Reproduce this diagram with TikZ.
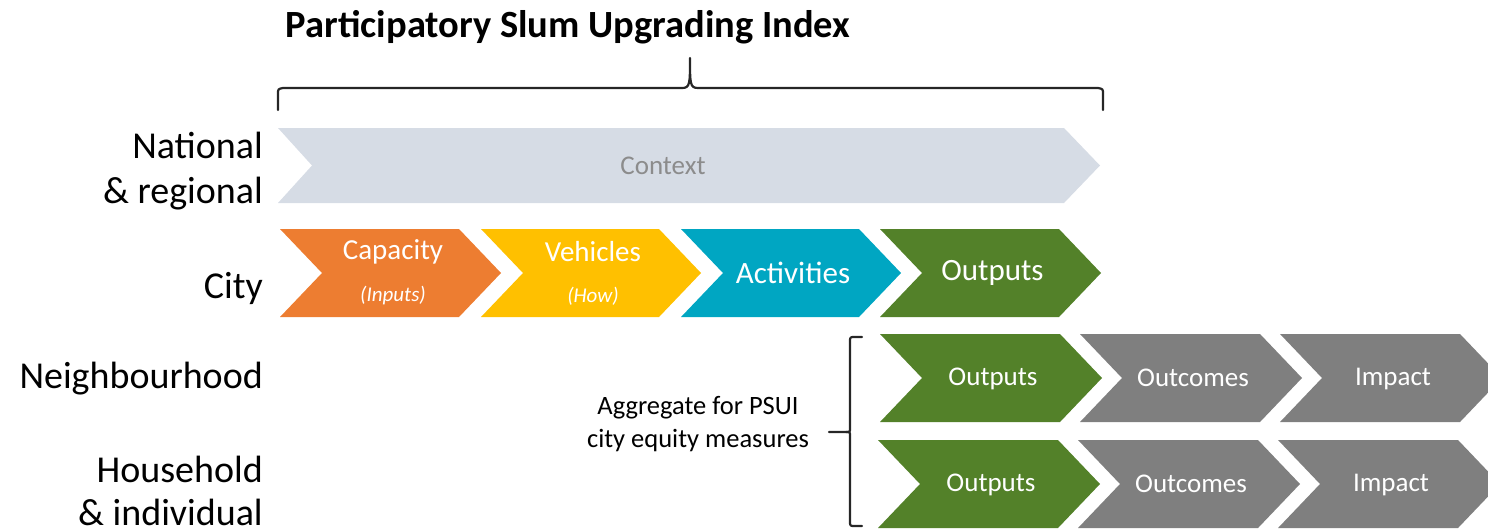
\documentclass[tikz,border=0pt]{standalone}
\usepackage{fontspec}
\setmainfont{Carlito}
\definecolor{ctxfill}{HTML}{D6DCE5}
\definecolor{ctxtext}{HTML}{8C8C8C}
\definecolor{corange}{HTML}{ED7D31}
\definecolor{cyellow}{HTML}{FFC000}
\definecolor{cteal}{HTML}{00A6C2}
\definecolor{cgreen}{HTML}{538129}
\definecolor{cgray}{HTML}{7F7F7F}
\newcommand{\chevshape}[5]{% name, left x, right x, mid y, fill
  \fill[#5] (#2,#4-44) -- (#3-42,#4-44) -- (#3,#4) -- (#3-42,#4+44) -- (#2,#4+44) -- (#2+42,#4) -- cycle;
  \coordinate (#1) at ({(#2+#3)/2+2},#4);}
\tikzset{
  lvl/.style={anchor=east, align=right, font=\fontsize{38}{45}\selectfont, text=black, inner sep=0pt},
  ctext/.style={text=white, font=\fontsize{29}{34}\selectfont, inner sep=0pt},
  csub/.style={text=white, font=\fontsize{21}{25}\selectfont\itshape, inner sep=0pt},
  brk/.style={draw=black!85, line width=2.2pt, line join=round, line cap=round},
}
\begin{document}
\begin{tikzpicture}[x=1pt,y=-1pt]
\useasboundingbox (0,0) rectangle (1488,530);
\clip (0,0) rectangle (1488,530);
% title
\node[font=\fontsize{38.5}{44}\selectfont\bfseries, inner sep=0pt] (title) at (568,27) {Participatory Slum Upgrading Index};
% top bracket
\coordinate (tbl) at (278,110);
\coordinate (tbr) at (1103,110);
\coordinate (tbm) at (690,58);
\draw[brk] (tbl) -- (278,94) .. controls (278,89) .. (283,88) -- (682,88) .. controls (690,88) and (690,84) .. (tbm) .. controls (690,84) and (690,88) .. (698,88) -- (1098,88) .. controls (1103,89) .. (1103,94) -- (tbr);
% level labels
\node[lvl] (nat) at (263,171) {National\\\& regional};
\node[lvl] (city) at (263,288) {City};
\node[lvl] (nbh) at (263,379) {Neighbourhood};
\node[lvl, font=\fontsize{38}{43}\selectfont] (hh) at (263,491) {Household\\\& individual};
% context
\fill[ctxfill] (278,128) -- (1064,128) -- (1100,165.5) -- (1064,203) -- (278,203) -- (312,165.5) -- cycle;
\node[text=ctxtext, font=\fontsize{27}{32}\selectfont, inner sep=0pt] (ctx) at (663,166) {Context};
% city row
\chevshape{c1}{280}{501}{273}{corange}
\chevshape{c2}{481}{701}{273}{cyellow}
\chevshape{c3}{681}{901}{273}{cteal}
\chevshape{c4}{880}{1101}{273}{cgreen}
\node[ctext] (cap) at (393,252) {Capacity};
\node[csub] (capi) at (393,296) {(Inputs)};
\node[ctext] (veh) at (593,252) {Vehicles};
\node[csub] (vehh) at (593,296) {(How)};
\node[ctext, font=\fontsize{31}{36}\selectfont] (act) at (c3) {Activities};
\node[ctext, font=\fontsize{31}{36}\selectfont] (out0) at (c4) {Outputs};
% neighbourhood row
\chevshape{n1}{880}{1102}{378}{cgreen}
\chevshape{n2}{1080}{1302}{378}{cgray}
\chevshape{n3}{1280}{1502}{378}{cgray}
\node[ctext, font=\fontsize{27}{32}\selectfont] (out1) at ([yshift=-1pt]n1) {Outputs};
\node[ctext, font=\fontsize{27}{32}\selectfont] (oc1) at (n2) {Outcomes};
\node[ctext, font=\fontsize{27}{32}\selectfont] (im1) at ([yshift=-1pt]n3) {Impact};
% household row
\chevshape{h1}{878}{1100}{484}{cgreen}
\chevshape{h2}{1078}{1300}{484}{cgray}
\chevshape{h3}{1278}{1500}{484}{cgray}
\node[ctext, font=\fontsize{27}{32}\selectfont] (out2) at ([yshift=-1pt]h1) {Outputs};
\node[ctext, font=\fontsize{27}{32}\selectfont] (oc2) at (h2) {Outcomes};
\node[ctext, font=\fontsize{27}{32}\selectfont] (im2) at ([yshift=-1pt]h3) {Impact};
% aggregate bracket
\node[align=center, font=\fontsize{26.5}{33}\selectfont, inner sep=0pt] (agg) at (698,424) {Aggregate for PSUI\\city equity measures};
\coordinate (lbt) at (862,337);
\coordinate (lbb) at (862,526);
\coordinate (lbm) at (829,432);
\draw[brk] (lbt) -- (855,337) .. controls (850,337) .. (850,342) -- (850,428) .. controls (850,432) .. (846,432) -- (lbm);
\draw[brk] (846,432) .. controls (850,432) .. (850,436) -- (850,521) .. controls (850,526) .. (855,526) -- (lbb);
\end{tikzpicture}
\end{document}
